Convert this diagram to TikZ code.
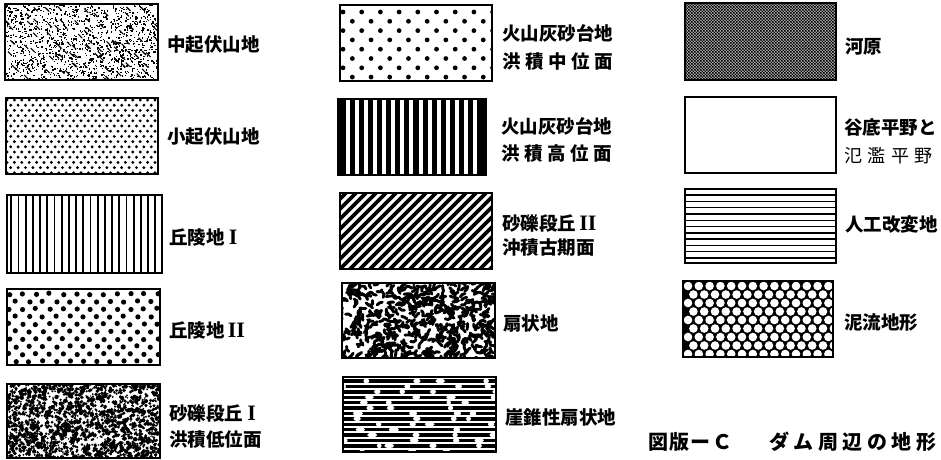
\documentclass[tikz,border=0pt]{standalone}
\usepackage{fontspec}
\usetikzlibrary{fit}
\newfontfamily\jp{Noto Sans CJK JP}
\newfontfamily\rom{Liberation Serif}
\newcommand\romnum[1]{{\rom\bfseries\fontsize{22pt}{22pt}\selectfont #1}}
\tikzset{
 box/.style={draw=black, line width=2.6pt, inner sep=0pt},
 lab/.style={anchor=west, inner sep=0pt, font=\jp\bfseries\fontsize{18.5pt}{20pt}\selectfont},
 labr/.style={anchor=west, inner sep=0pt, font=\jp\fontsize{18pt}{20pt}\selectfont},
 ttl/.style={anchor=west, inner sep=0pt, font=\jp\bfseries\fontsize{20pt}{22pt}\selectfont},
}
\newcommand\legbox[6]{%
 \begin{scope}\clip (#2,#3) rectangle (#4,#5); #6 \end{scope}%
 \node[box, fit={(#2,#3) (#4,#5)}] (#1) {};}
\begin{document}
\begin{tikzpicture}[x=1pt,y=-1pt]
\useasboundingbox (0,0) rectangle (941,459);
\pgfmathsetseed{4711}
% column 1
\legbox{b1}{5}{4}{158}{80}{%
 \foreach \i in {1,...,1250}{\pgfmathsetmacro\xa{5+153*rnd}\pgfmathsetmacro\ya{4+76*rnd}
  \fill (\xa,\ya) rectangle ++(1.4,1.4);}
 \foreach \i in {1,...,90}{\pgfmathsetmacro\xa{5+153*rnd}\pgfmathsetmacro\ya{4+76*rnd}
  \draw[line width=1.1pt] (\xa,\ya) -- ++(4,4);}}
\legbox{b2}{6}{98}{158}{174}{%
 \foreach \r in {0,...,14}{\foreach \c in {0,...,20}{\fill ({7+\c*7.4+mod(\r,2)*3.7},{100+\r*5.2}) circle (1.6pt);}}}
\legbox{b3}{7}{195}{162}{273}{%
 \foreach \k in {0,...,20}{\draw[line width=1.9pt] ({11.3+\k*7.2},195) -- ({11.3+\k*7.2},273);}}
\legbox{b4}{7}{289}{160}{365}{%
 \foreach \r in {0,...,9}{\foreach \c in {0,...,11}{\fill ({9+\c*13.5+mod(\r,2)*6.75+1.6*rnd-0.8},{294+\r*7.5+1.6*rnd-0.8}) circle (2.6pt);}}}
\legbox{b5}{7}{384}{160}{458}{%
 \foreach \i in {1,...,1800}{\pgfmathsetmacro\xa{7+153*rnd}\pgfmathsetmacro\ya{384+74*rnd}\pgfmathsetmacro\rr{0.7+1.5*rnd}
  \fill (\xa,\ya) circle (\rr pt);}}
% column 2
\legbox{b6}{340}{5}{492}{81}{%
 \foreach \r in {0,...,7}{\foreach \c in {0,...,8}{\fill ({343+\c*18.7+mod(\r,2)*9.35},{12+\r*9.3}) circle (2.4pt);}}}
\legbox{b7}{338}{99}{486}{175}{%
 \fill (338,99) rectangle (486,175);
 \foreach \k in {0,...,14}{\draw[white, line width=4pt] ({348+\k*9.07},99) -- ({348+\k*9.07},175);}}
\legbox{b8}{340}{193}{492}{269}{%
 \foreach \k in {-8,...,15}{\draw[line width=3.8pt] ({340+\k*10},269) -- ({416+\k*10},193);}}
\legbox{b9}{342}{283}{495}{358}{%
 \foreach \i in {1,...,480}{\pgfmathsetmacro\xa{342+153*rnd}\pgfmathsetmacro\ya{283+75*rnd}
  \pgfmathsetmacro\aa{360*rnd}\pgfmathsetmacro\ab{\aa+120*rnd-60}
  \draw[line width=2.9pt, line cap=round, line join=round] (\xa,\ya) -- ++(\aa:3) -- ++(\ab:3);}}
\legbox{b10}{343}{377}{496}{452}{%
 \foreach \k in {0,...,13}{\draw[line width=3.4pt] (343,{381+\k*5.4}) -- (496,{381+\k*5.4});}
 \foreach \k in {0,...,13}{\foreach \g in {0,...,3}{\pgfmathsetmacro\xa{343+\g*40+40*rnd}\pgfmathsetmacro\rr{2.2+3*rnd}
  \fill[white] (\xa,{381+\k*5.4}) ellipse [x radius=\rr pt, y radius=2.3pt];}}}
% column 3
\legbox{b11}{685}{3}{836}{80}{%
 \fill[black!25] (685,3) rectangle (836,80);
 \fill \foreach \j in {0,...,51}{\foreach \i in {0,2,...,100}{({685+(\i+mod(\j,2))*1.5},{3+\j*1.5}) rectangle ++(1.5,1.5)}};}
\legbox{b12}{685}{97}{836}{173}{}
\legbox{b13}{685}{189}{836}{263}{%
 \foreach \k in {0,...,10}{\draw[line width=1.4pt] (685,{195+\k*6.3}) -- (836,{195+\k*6.3});}}
\legbox{b14}{683}{281}{833}{357}{%
 \fill (683,281) rectangle (833,357);
 \foreach \r in {0,...,8}{\foreach \c in {0,...,14}{\fill[white] ({688+\c*10.8+mod(\r,2)*5.4},{286+\r*8.5}) circle (4.3pt);}}}
% labels
\node[lab] (l1) at (167,45) {中起伏山地};
\node[lab] (l2) at (167,137) {小起伏山地};
\node[lab] (l3) at (169,237) {丘陵地 \romnum{I}};
\node[lab] (l4) at (169,330) {丘陵地\,\romnum{II}};
\node[lab] (l5a) at (169,413) {砂礫段丘 \romnum{I}};
\node[lab] (l5b) at (169,440) {洪積低位面};
\node[lab] (l6a) at (502,33) {火山灰砂台地};
\node[lab] (l6b) at (502,62) {洪\kern4.5pt 積\kern4.5pt 中\kern4.5pt 位\kern4.5pt 面};
\node[lab] (l7a) at (501,126) {火山灰砂台地};
\node[lab] (l7b) at (501,153) {洪\kern4.5pt 積\kern4.5pt 高\kern4.5pt 位\kern4.5pt 面};
\node[lab] (l8a) at (502,223) {砂礫段丘\,\romnum{II}};
\node[lab] (l8b) at (502,248) {沖積古期面};
\node[lab] (l9) at (503,323) {扇状地};
\node[lab] (l10) at (505,417) {崖錐性扇状地};
\node[lab] (l11) at (845,47) {河原};
\node[lab] (l12a) at (844,127) {谷底平野と};
\node[labr] (l12b) at (844,156) {氾\kern5.5pt 濫\kern5.5pt 平\kern5.5pt 野};
\node[lab] (l13) at (845,225) {人工改変地};
\node[lab] (l14) at (844,323) {泥流地形};
\node[ttl] (title) at (648,442) {図\kern1.3pt 版\kern1.3pt ー\kern1.3pt Ｃ\hspace{37pt}ダ\kern4.5pt ム\kern4.5pt 周\kern4.5pt 辺\kern4.5pt の\kern4.5pt 地\kern4.5pt 形};
\end{tikzpicture}
\end{document}
